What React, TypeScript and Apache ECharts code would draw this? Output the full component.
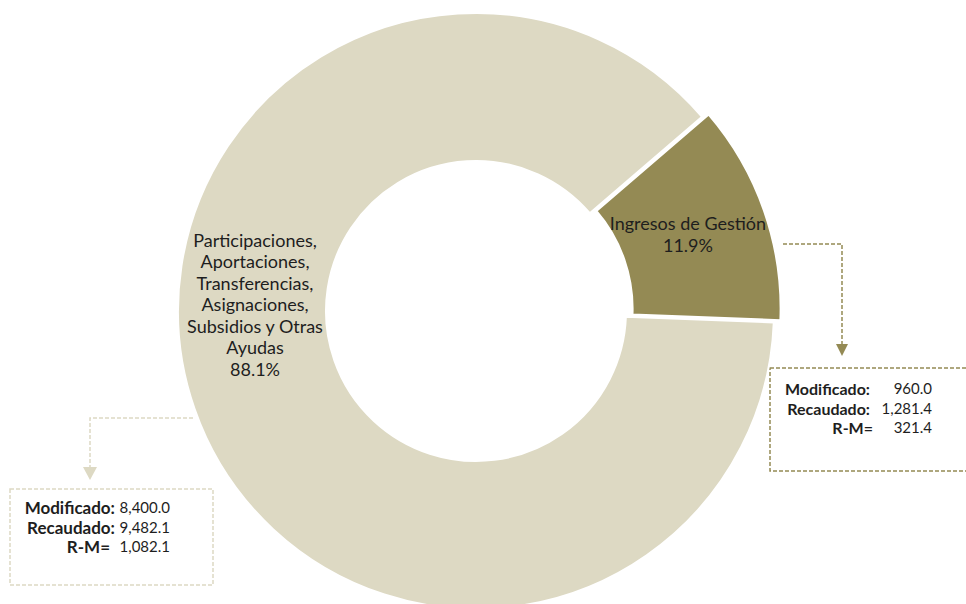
import React, { useEffect, useRef } from "react";
import * as echarts from "echarts";

const categories = [
  "Participaciones,\nAportaciones,\nTransferencias,\nAsignaciones,\nSubsidios y Otras\nAyudas",
  "Ingresos de Gestión",
];
const modificado = [8400.0, 960.0];
const recaudado = [9482.1, 1281.4];
const rMenosM = [1082.1, 321.4];
const sliceColors = ["#DDD9C3", "#948A54"];

const fmt = (v: number) =>
  v.toLocaleString("en-US", { minimumFractionDigits: 1, maximumFractionDigits: 1 });

const FONT = "Lato, 'Noto Sans', sans-serif";
const TXT = "#1e1e1e";

function boxTexts(labelRight: number, valueRight: number, ys: number[], idx: number, rmRight: number, lblSize: number) {
  const labels = ["Modificado:", "Recaudado:", "R-M="];
  const values = [modificado[idx], recaudado[idx], rMenosM[idx]];
  const out: any[] = [];
  labels.forEach((l, i) => {
    out.push({
      type: "text",
      x: i === 2 ? rmRight : labelRight,
      y: ys[i],
      style: {
        text: l,
        fill: TXT,
        font: `bold ${lblSize}px ${FONT}`,
        align: "right",
        verticalAlign: "middle",
      },
    });
    out.push({
      type: "text",
      x: valueRight,
      y: ys[i],
      style: {
        text: fmt(values[i]),
        fill: TXT,
        font: `15px ${FONT}`,
        align: "right",
        verticalAlign: "middle",
      },
    });
  });
  return out;
}

export default function App() {
  const ref = useRef<HTMLDivElement>(null);
  useEffect(() => {
    if (!ref.current) return;
    const chart = echarts.init(ref.current, null, { renderer: "svg" });
    const dash = [4, 2];
    chart.setOption({
      animation: false,
      backgroundColor: "#ffffff",
      series: [
        {
          type: "pie",
          center: [476, 311],
          radius: [150, 298],
          startAngle: -2.2,
          clockwise: true,
          percentPrecision: 1,
          selectedMode: "single",
          selectedOffset: 7,
          avoidLabelOverlap: false,
          itemStyle: { borderColor: "#ffffff", borderWidth: 2 },
          emphasis: { disabled: true },
          label: {
            show: true,
            position: "inside",
            formatter: "{b}\n{d}%",
            fontFamily: FONT,
            fontSize: 18,
            lineHeight: 21.5,
            color: TXT,
            align: "center",
            verticalAlign: "middle",
          },
          labelLine: { show: false },
          labelLayout: (p: any) =>
            p.dataIndex === 0
              ? { x: 255, y: 304, align: "center", verticalAlign: "middle" }
              : {},
          data: categories.map((c, i) => ({
            name: c,
            value: recaudado[i],
            selected: i === 1,
            itemStyle: { color: sliceColors[i] },
            label: i === 1 ? { padding: [0, 18, 2, 0] } : {},
          })),
        },
      ],
      graphic: [
        // left annotation
        {
          type: "polyline",
          shape: { points: [[193, 418], [90, 418], [90, 468]] },
          style: { stroke: sliceColors[0], lineWidth: 1.5, lineDash: dash, fill: null },
        },
        {
          type: "polygon",
          shape: { points: [[83, 467], [97, 467], [90, 480]] },
          style: { fill: sliceColors[0] },
        },
        {
          type: "rect",
          shape: { x: 10, y: 489, width: 203, height: 96 },
          style: { stroke: sliceColors[0], lineWidth: 1.5, lineDash: dash, fill: null },
        },
        ...boxTexts(115, 170, [507, 527, 546], 0, 110, 17),
        // right annotation
        {
          type: "polyline",
          shape: { points: [[783, 244], [842, 244], [842, 345]] },
          style: { stroke: sliceColors[1], lineWidth: 1.5, lineDash: dash, fill: null },
        },
        {
          type: "polygon",
          shape: { points: [[836, 344], [848, 344], [842, 356]] },
          style: { fill: sliceColors[1] },
        },
        {
          type: "rect",
          shape: { x: 770, y: 368, width: 210, height: 103 },
          style: { stroke: sliceColors[1], lineWidth: 1.5, lineDash: dash, fill: null },
        },
        ...boxTexts(870, 932, [388, 408, 427], 1, 873, 16),
      ],
    });
    return () => chart.dispose();
  }, []);
  return (
    <div
      ref={ref}
      style={{ position: "absolute", left: 0, top: 0, width: 966, height: 604 }}
    />
  );
}
